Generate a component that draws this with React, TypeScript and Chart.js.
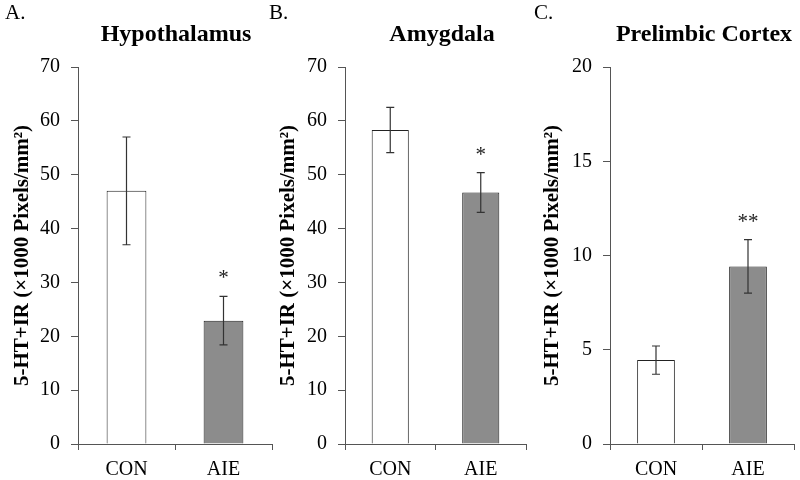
import React, { useEffect, useRef } from 'react';
import { Chart, registerables } from 'chart.js';

Chart.register(...registerables);

const categories = ['CON', 'AIE'];
const panelLetters = ['A.', 'B.', 'C.'];
const panelTitles = ['Hypothalamus', 'Amygdala', 'Prelimbic Cortex'];
const yAxisTitle = '5-HT+IR (×1000 Pixels/mm²)';

const hypothalamusMeans = [47.0, 22.9];
const hypothalamusSEM = [10.0, 4.5];
const hypothalamusStars = ['', '*'];

const amygdalaMeans = [58.3, 46.7];
const amygdalaSEM = [4.2, 3.7];
const amygdalaStars = ['', '*'];

const prelimbicMeans = [4.45, 9.42];
const prelimbicSEM = [0.75, 1.42];
const prelimbicStars = ['', '**'];

const yMaxes = [70, 70, 20];
const ySteps = [10, 10, 5];

const barFills = ['#ffffff', '#8c8c8c'];

const FONT = "'Liberation Serif', 'Times New Roman', serif";
const AXIS_COLOR = '#555555';

const overlayPlugin = {
  id: 'overlay',
  afterDatasetsDraw(chart: any, _args: any, opts: any) {
    const ctx = chart.ctx;
    const meta = chart.getDatasetMeta(0);
    const y = chart.scales.y;
    ctx.save();
    ctx.strokeStyle = '#333333';
    ctx.lineWidth = 1.2;
    meta.data.forEach((bar: any, i: number) => {
      const x = bar.x;
      const top = y.getPixelForValue(opts.means[i] + opts.sem[i]);
      const bot = y.getPixelForValue(opts.means[i] - opts.sem[i]);
      ctx.beginPath();
      ctx.moveTo(x, top);
      ctx.lineTo(x, bot);
      ctx.moveTo(x - 4, top);
      ctx.lineTo(x + 4, top);
      ctx.moveTo(x - 4, bot);
      ctx.lineTo(x + 4, bot);
      ctx.stroke();
      if (opts.stars[i]) {
        ctx.fillStyle = '#222222';
        ctx.font = `21px ${FONT}`;
        ctx.textAlign = 'center';
        ctx.textBaseline = 'alphabetic';
        ctx.fillText(opts.stars[i], x, top - 12);
      }
    });
    ctx.restore();
  },
  afterDraw(chart: any, _args: any, opts: any) {
    const ctx = chart.ctx;
    ctx.save();
    ctx.fillStyle = '#000000';
    ctx.textBaseline = 'alphabetic';
    ctx.textAlign = 'left';
    ctx.font = `21px ${FONT}`;
    ctx.fillText(opts.letter, opts.letterX, 19);
    ctx.textAlign = 'center';
    ctx.font = `bold 24px ${FONT}`;
    ctx.fillText(opts.title, opts.titleX, 41);
    ctx.restore();
  },
};

type PanelProps = {
  idx: number;
  means: number[];
  sem: number[];
  stars: string[];
  left: number;
  width: number;
  axisWidth: number;
  padRight: number;
  titleX: number;
  letterX: number;
};

function Panel(p: PanelProps) {
  const ref = useRef<HTMLCanvasElement | null>(null);
  useEffect(() => {
    if (!ref.current) return;
    const chart = new Chart(ref.current, {
      type: 'bar',
      data: {
        labels: categories,
        datasets: [
          {
            data: p.means,
            backgroundColor: barFills,
            borderColor: '#222222',
            borderWidth: 1,
            barPercentage: 0.41,
            categoryPercentage: 1,
          },
        ],
      },
      options: {
        responsive: false,
        animation: false,
        devicePixelRatio: 1,
        layout: { padding: { top: 67, right: p.padRight, left: 0, bottom: 0 } },
        plugins: {
          legend: { display: false },
          tooltip: { enabled: false },
          title: { display: false },
          overlay: {
            means: p.means,
            sem: p.sem,
            stars: p.stars,
            letter: panelLetters[p.idx],
            title: panelTitles[p.idx],
            titleX: p.titleX,
            letterX: p.letterX,
          },
        } as any,
        scales: {
          x: {
            afterFit: (scale: any) => {
              scale.height = 36;
            },
            grid: {
              display: true,
              offset: true,
              drawOnChartArea: false,
              drawTicks: true,
              tickLength: 6,
              color: AXIS_COLOR,
            },
            border: { display: true, color: AXIS_COLOR, width: 1 },
            ticks: {
              color: '#000000',
              font: { family: FONT, size: 20 },
              padding: 8,
              maxRotation: 0,
            },
          },
          y: {
            min: 0,
            max: yMaxes[p.idx],
            afterFit: (scale: any) => {
              scale.width = p.axisWidth;
            },
            grid: {
              display: true,
              drawOnChartArea: false,
              drawTicks: true,
              tickLength: 7,
              color: AXIS_COLOR,
            },
            border: { display: true, color: AXIS_COLOR, width: 1 },
            ticks: {
              stepSize: ySteps[p.idx],
              color: '#000000',
              font: { family: FONT, size: 20 },
              padding: 11,
            },
            title: {
              display: true,
              text: yAxisTitle,
              color: '#000000',
              font: { family: FONT, size: 21, weight: 'bold' },
              padding: { top: 10, bottom: 0 },
            },
          },
        },
      },
      plugins: [overlayPlugin],
    });
    return () => chart.destroy();
  }, []);
  return (
    <canvas
      ref={ref}
      width={p.width}
      height={480}
      style={{ position: 'absolute', left: p.left, top: 0, width: p.width, height: 480 }}
    />
  );
}

export default function App() {
  return (
    <div style={{ position: 'absolute', left: 0, top: 0, width: 800, height: 480, background: '#ffffff', overflow: 'hidden' }}>
      <Panel idx={0} means={hypothalamusMeans} sem={hypothalamusSEM} stars={hypothalamusStars}
        left={0} width={280} axisWidth={78} padRight={8} titleX={176} letterX={5} />
      <Panel idx={1} means={amygdalaMeans} sem={amygdalaSEM} stars={amygdalaStars}
        left={266} width={270} axisWidth={79} padRight={10} titleX={176} letterX={3} />
      <Panel idx={2} means={prelimbicMeans} sem={prelimbicSEM} stars={prelimbicStars}
        left={530} width={270} axisWidth={80} padRight={6} titleX={174} letterX={4} />
    </div>
  );
}
